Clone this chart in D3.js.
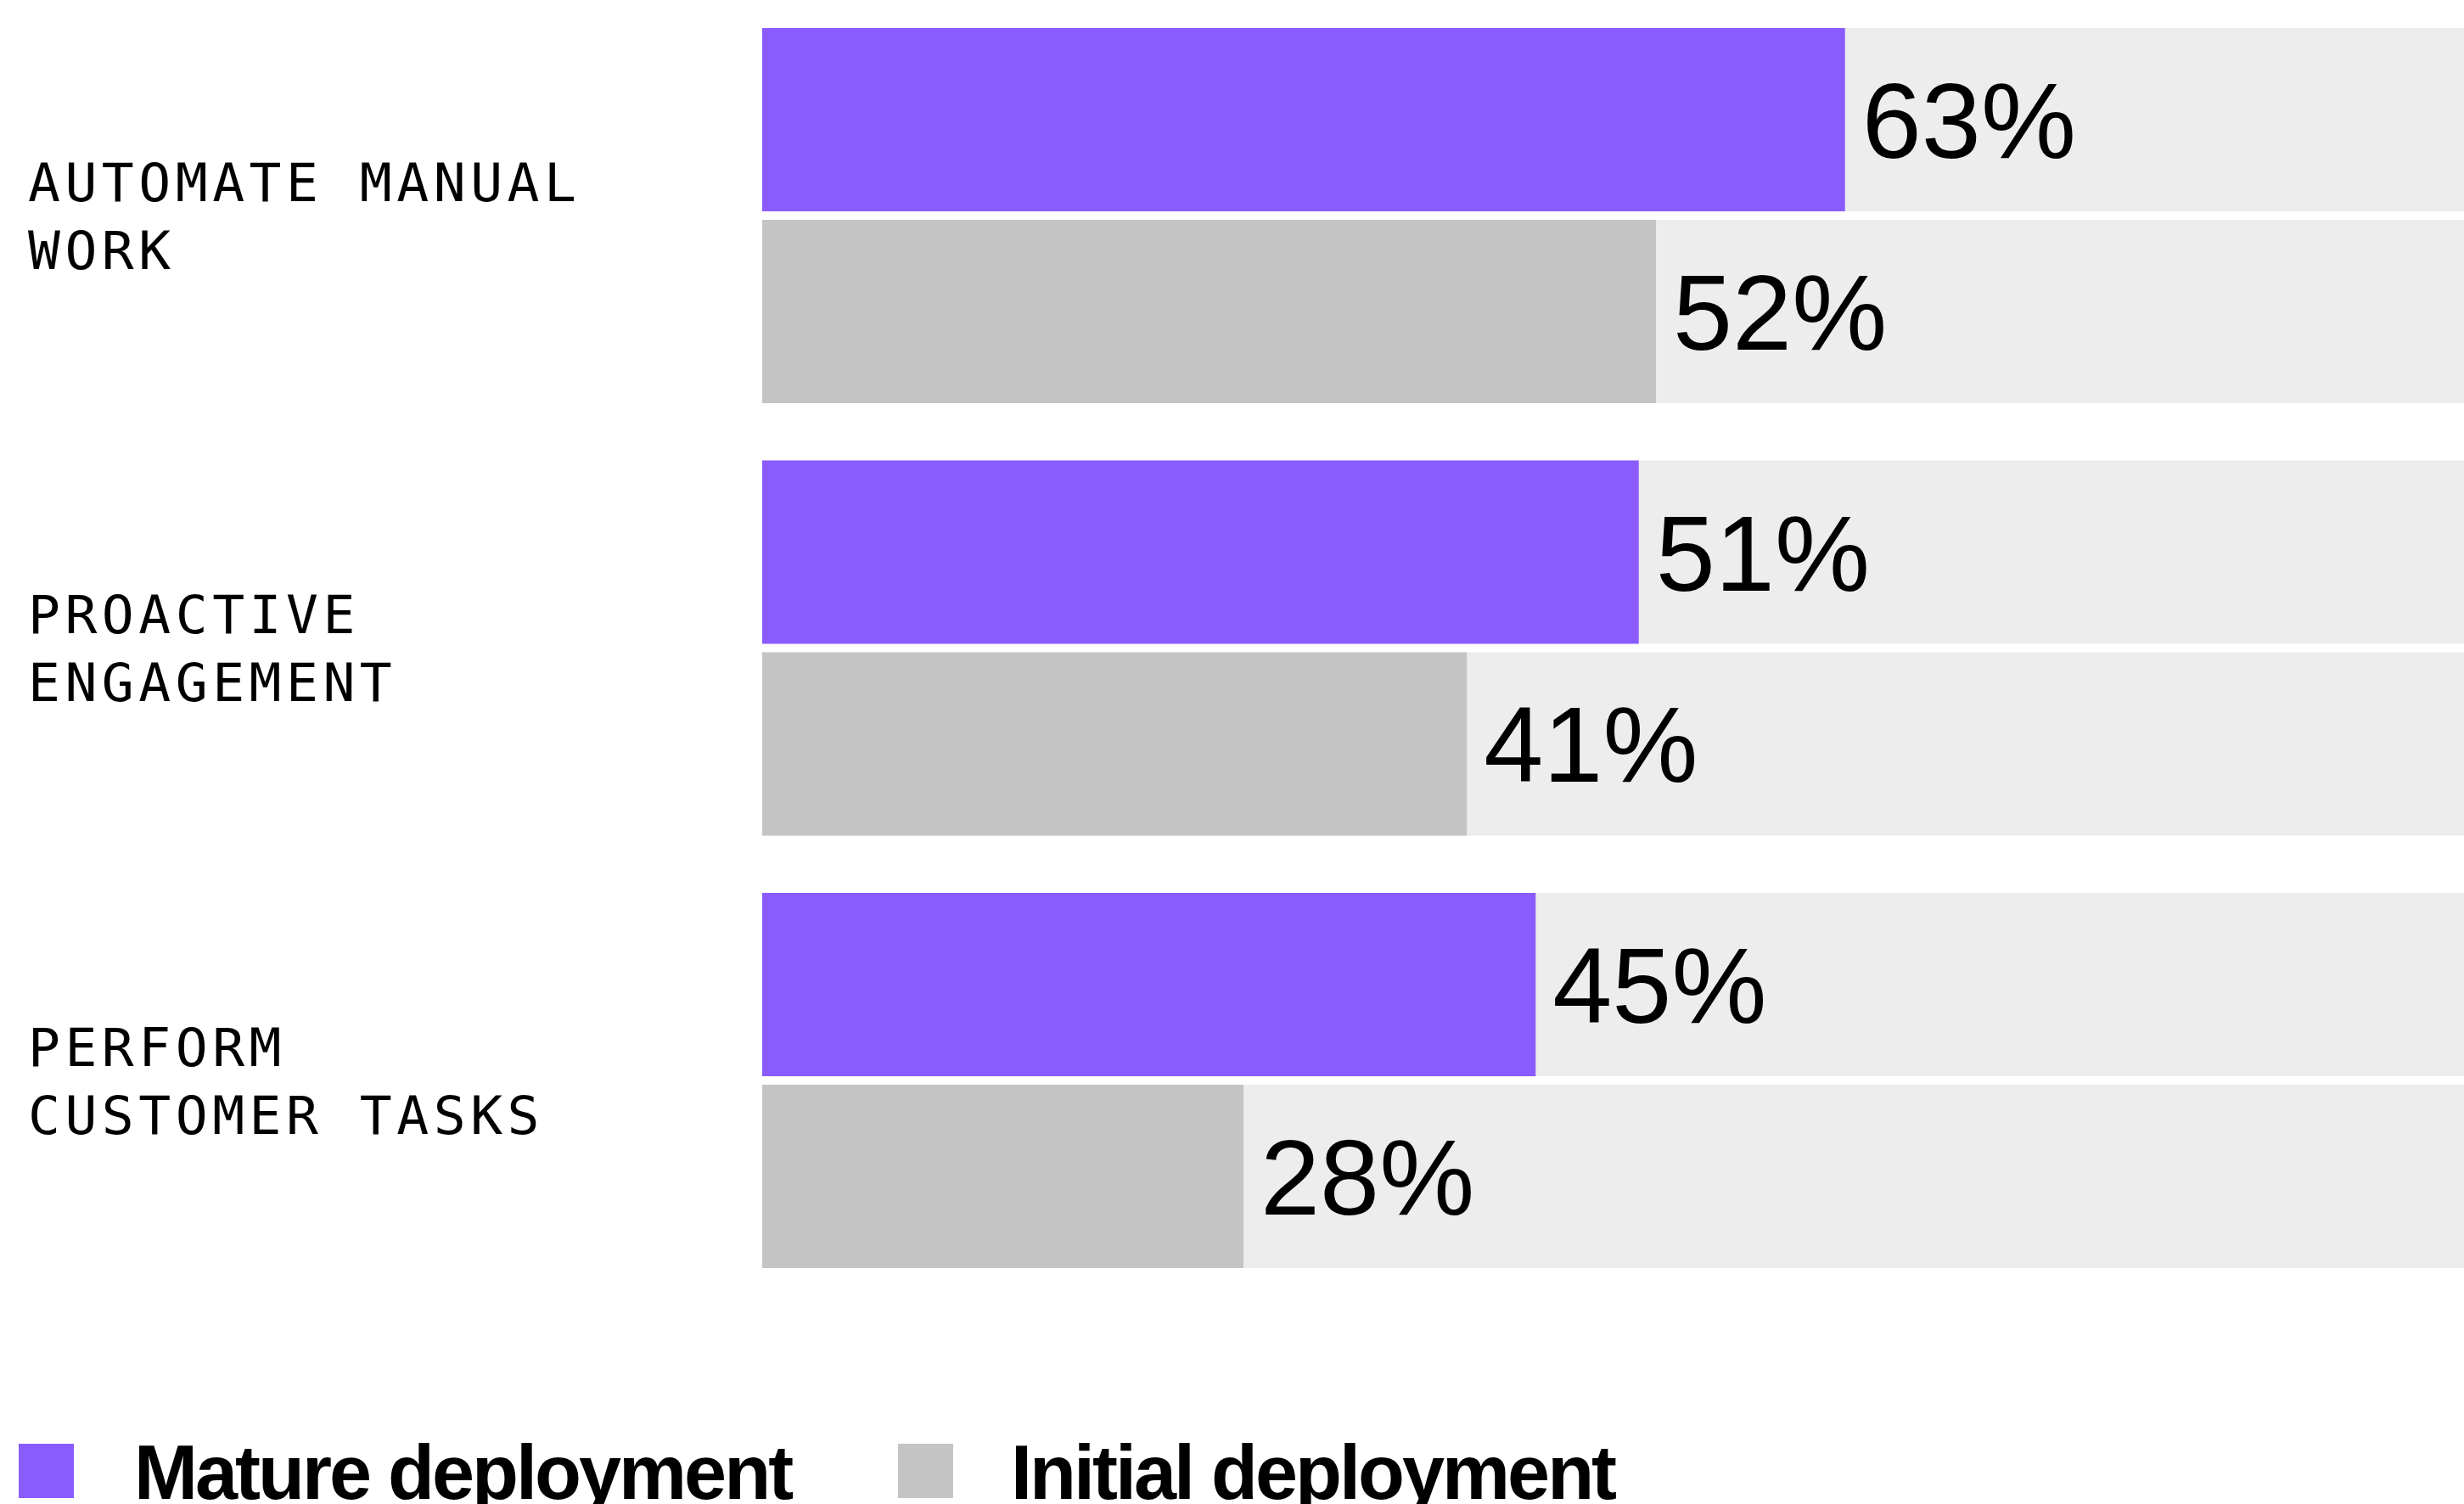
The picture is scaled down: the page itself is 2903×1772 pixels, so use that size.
<!DOCTYPE html>
<html>
<head>
<meta charset="utf-8">
<script src="https://cdn.jsdelivr.net/npm/d3@7"></script>
<style>
  html, body { margin: 0; padding: 0; background: #ffffff; overflow: hidden; }
  svg { display: block; }
</style>
</head>
<body>
<svg id="chart" width="2903" height="1772"></svg>
<script>
// Use-case categories (each label is split over two lines)
const categories = ["Automate manual work", "Proactive engagement", "Perform customer tasks"];
const categoryLines = [
  ["AUTOMATE MANUAL", "WORK"],
  ["PROACTIVE", "ENGAGEMENT"],
  ["PERFORM", "CUSTOMER TASKS"]
];
const seriesNames = ["Mature deployment", "Initial deployment"];
const matureValues = [63, 51, 45];
const initialValues = [52, 41, 28];
const seriesColors = ["#8a5cff", "#c4c4c4"];
const trackColor = "#ededed";

const svg = d3.select("#chart");

const rows = categories.map((c, i) => ({
  category: c,
  lines: categoryLines[i],
  values: [
    { series: seriesNames[0], value: matureValues[i] },
    { series: seriesNames[1], value: initialValues[i] }
  ]
}));

// Scales: percent share along x, grouped bands along y
const x = d3.scaleLinear().domain([0, 100]).range([898, 2923]);
const y0 = d3.scaleBand().domain(categories).range([33, 1494]).paddingInner(0.1325).paddingOuter(0);
const y1 = d3.scaleBand().domain(seriesNames).range([0, y0.bandwidth()]).paddingInner(0.0442).paddingOuter(0);
const color = d3.scaleOrdinal().domain(seriesNames).range(seriesColors);

const groups = svg.append("g").selectAll("g.group")
  .data(rows)
  .join("g")
  .attr("class", "group")
  .attr("transform", d => `translate(0,${y0(d.category)})`);

// Full-width track behind each bar
groups.selectAll("rect.track")
  .data(d => d.values)
  .join("rect")
  .attr("class", "track")
  .attr("x", x(0))
  .attr("y", d => y1(d.series))
  .attr("width", x(100) - x(0))
  .attr("height", y1.bandwidth())
  .attr("fill", trackColor);

// Value bars
groups.selectAll("rect.bar")
  .data(d => d.values)
  .join("rect")
  .attr("class", "bar")
  .attr("x", x(0))
  .attr("y", d => y1(d.series))
  .attr("width", d => x(d.value) - x(0))
  .attr("height", y1.bandwidth())
  .attr("fill", d => color(d.series));

// Value labels just past the end of each bar
groups.selectAll("text.value")
  .data(d => d.values)
  .join("text")
  .attr("class", "value")
  .attr("x", d => x(d.value) + 20)
  .attr("y", d => y1(d.series) + y1.bandwidth() / 2 + 45)
  .attr("font-family", "'Liberation Sans', Arial, sans-serif")
  .attr("font-size", 126)
  .attr("fill", "#000")
  .text(d => d.value + "%");

// Category labels, vertically centred on their group
const lineGap = 80;
groups.append("text")
  .attr("class", "category")
  .attr("font-family", "'DejaVu Sans Mono', monospace")
  .attr("font-size", 63)
  .attr("letter-spacing", 5.5)
  .attr("fill", "#000")
  .each(function(d) {
    const t = d3.select(this);
    const n = d.lines.length;
    const capH = 46;
    const blockH = capH + (n - 1) * lineGap;
    const firstBaseline = y0.bandwidth() / 2 - blockH / 2 + capH;
    d.lines.forEach((line, i) => {
      t.append("tspan")
        .attr("x", 33)
        .attr("y", firstBaseline + i * lineGap)
        .text(line);
    });
  });

// Legend along the bottom
const legendItems = [
  { name: seriesNames[0], sx: 22, tx: 158 },
  { name: seriesNames[1], sx: 1058, tx: 1191 }
];
const legend = svg.append("g").attr("class", "legend");
legend.selectAll("rect")
  .data(legendItems)
  .join("rect")
  .attr("x", d => d.sx)
  .attr("y", 1701)
  .attr("width", 65)
  .attr("height", 64)
  .attr("fill", d => color(d.name));
legend.selectAll("text")
  .data(legendItems)
  .join("text")
  .attr("x", d => d.tx)
  .attr("y", 1766)
  .attr("font-family", "'Liberation Sans', Arial, sans-serif")
  .attr("font-weight", 700)
  .attr("font-size", 90)
  .attr("letter-spacing", -3)
  .attr("fill", "#000")
  .text(d => d.name);
</script>
</body>
</html>
